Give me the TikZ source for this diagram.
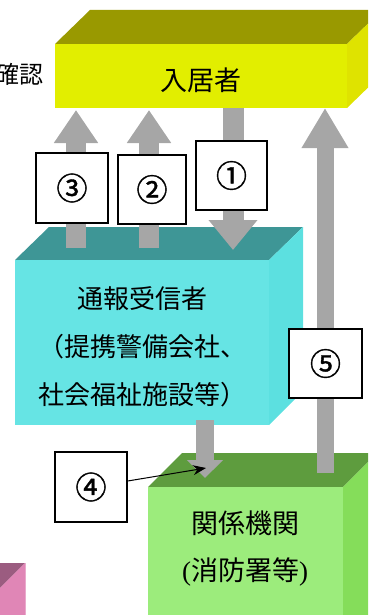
\documentclass[tikz,border=0pt]{standalone}
\usepackage{fontspec}
\usetikzlibrary{arrows.meta}
\newfontfamily\jp{Noto Sans CJK JP}
\newfontfamily\jpnum[FakeBold=1.2]{Noto Sans CJK JP}
\newfontfamily\serifpar{Liberation Serif}
\definecolor{yelF}{HTML}{E2EE00}
\definecolor{yelT}{HTML}{999900}
\definecolor{yelR}{HTML}{DFE300}
\definecolor{cyaF}{HTML}{66E4E4}
\definecolor{cyaT}{HTML}{3E9696}
\definecolor{cyaR}{HTML}{5CE0E0}
\definecolor{grnF}{HTML}{9CEC7C}
\definecolor{grnT}{HTML}{5E9C3E}
\definecolor{grnR}{HTML}{85DD5A}
\definecolor{pnkR}{HTML}{E086B6}
\definecolor{pnkT}{HTML}{9B5C80}
\definecolor{agray}{HTML}{A6A6A6}
\tikzset{
  lab/.style={draw=black, line width=1.4pt, fill=white, minimum width=72pt, minimum height=70pt, inner sep=0pt, font=\jpnum\fontsize{31}{34}\selectfont},
  blockarrow/.style n args={3}{draw=agray, line width=#1, -{Triangle[width=#2,length=#3]}},
  boxtext/.style={font=\jp\fontsize{26}{48}\selectfont, align=center, inner sep=0pt},
  pointer/.style={draw=black, line width=1pt, -{Stealth[length=13pt,width=10pt]}}
}
\begin{document}
\begin{tikzpicture}[x=1pt,y=-1pt]
\useasboundingbox (0,0) rectangle (368,615);
\clip (0,0) rectangle (368,615);
% pink box (bottom left)
\fill[pnkT] (-60,563) -- (25,563) -- (-9,597) -- (-94,597) -- cycle;
\fill[pnkR] (-9,597) -- (25,563) -- (25,640) -- (-9,640) -- cycle;
\draw[color=pnkR!70!white, line width=0.8pt] (25,563) -- (25,640);
% green box
\fill[grnT] (148,487) -- (182,453) -- (377,453) -- (343,487) -- cycle;
\fill[grnR] (343,487) -- (377,453) -- (377,640) -- (343,640) -- cycle;
\fill[grnF] (148,487) rectangle (343,640);
% cyan box
\fill[cyaT] (15,260) -- (49,227) -- (303,227) -- (269,260) -- cycle;
\fill[cyaR] (269,260) -- (303,227) -- (303,391) -- (269,425) -- cycle;
\fill[cyaF] (15,260) rectangle (269,425);
% arrow end points
\coordinate (a3s) at (76,248);  \coordinate (a3e) at (76,110);
\coordinate (a2s) at (149,248); \coordinate (a2e) at (149,110);
\coordinate (a1s) at (233,100); \coordinate (a1e) at (233,250);
\coordinate (a5s) at (325,473); \coordinate (a5e) at (325,108);
\coordinate (a4s) at (205,420); \coordinate (a4e) at (205,478);
\draw[blockarrow={20pt}{42pt}{33pt}] (a3s) -- (a3e);
\draw[blockarrow={20pt}{42pt}{33pt}] (a2s) -- (a2e);
\draw[blockarrow={21pt}{47pt}{30pt}] (a1s) -- (a1e);
\draw[blockarrow={17pt}{44pt}{40pt}] (a5s) -- (a5e);
\draw[blockarrow={18pt}{35pt}{18pt}] (a4s) -- (a4e);
% yellow box
\fill[yelT] (55,44) -- (90,10) -- (382,10) -- (347,44) -- cycle;
\fill[yelR] (347,44) -- (382,10) -- (382,74) -- (347,108) -- cycle;
\fill[yelF] (55,44) rectangle (347,108);
% texts
\node[boxtext, font=\jp\fontsize{27}{48}\selectfont] (resident) at (201,80) {入居者};
\node[boxtext] (receiver) at (142,347) {通報受信者\\（提携警備会社、\\社会福祉施設等）};
\node[boxtext, font=\jp\fontsize{27}{47}\selectfont] (agency) at (245,549) {関係機関\\{\serifpar(}消防署等{\serifpar)}};
\node[font=\jp\fontsize{24}{26}\selectfont, anchor=east, inner sep=0pt] (confirm) at (44,74) {確認};
% labels
\node[lab] (l3) at (72,188) {③};
\node[lab, minimum width=68pt, minimum height=69pt] (l2) at (152,189.5) {②};
\node[lab, minimum width=71pt, minimum height=69pt] (l1) at (231.5,175.5) {①};
\node[lab, minimum width=73pt, minimum height=69pt] (l5) at (325.5,363.5) {⑤};
\node[lab] (l4) at (91,487) {④};
\coordinate (p4) at (206,468);
\draw[pointer] ([yshift=6pt]l4.east) -- (p4);
\end{tikzpicture}
\end{document}
